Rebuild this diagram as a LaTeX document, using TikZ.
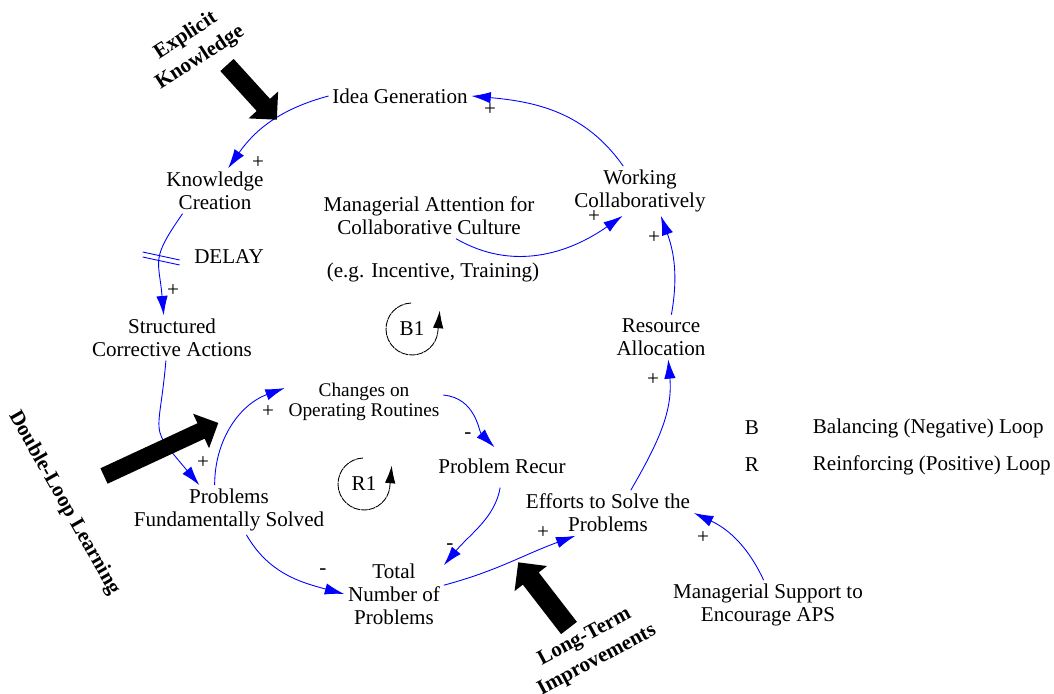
\documentclass[tikz,border=0pt]{standalone}
\usepackage{fontspec}
\setmainfont{Liberation Serif}
\usetikzlibrary{shapes, arrows.meta}
\tikzstyle{var} = [inner sep=2pt, align=center, font=\fontsize{12}{13}\selectfont]
\tikzstyle{sign} = [inner sep=0pt, font=\fontsize{12}{13}\selectfont]
\tikzstyle{tag} = [inner sep=1pt, align=center, font=\bfseries\fontsize{12}{15}\selectfont]
\tikzstyle{link} = [blue, line width=0.5pt, -{Latex[length=11pt,width=6.5pt]}]
\tikzstyle{loopar} = [black, line width=0.5pt, dash pattern=on 4pt off 0.4pt, -{Latex[length=10pt,width=6pt]}]
\newcommand{\fatarrow}[6]{\fill[shift={(#1,#2)}, rotate=#3] (0,-#5) -- (#4-#6,-#5) -- (#4-#6,-#6) -- (#4,0) -- (#4-#6,#6) -- (#4-#6,#5) -- (0,#5) -- cycle;}

\begin{document}
\begin{tikzpicture}[x=0.02cm, y=0.02cm]
\useasboundingbox (0,0) rectangle (1054,693);

% Variables
\node[var] (idea) at (400,597) {Idea Generation};
\node[var] (know) at (215,502) {Knowledge\\Creation};
\node[var] (delay) at (229,436) {DELAY};
\node[var] (struct) at (172,355) {Structured\\Corrective Actions};
\node[var, font=\fontsize{11}{11.5}\selectfont] (change) at (364,291) {Changes on\\Operating Routines};
\node[var] (recur) at (502,227) {Problem Recur};
\node[var] (solved) at (229,183) {Problems\\Fundamentally Solved};
\node[var] (total) at (394,99) {Total\\Number of\\Problems};
\node[var] (effort) at (608,180) {Efforts to Solve the\\Problems};
\node[var] (support) at (768,88) {Managerial Support to\\Encourage APS};
\node[var] (resource) at (661,356) {Resource\\Allocation};
\node[var] (working) at (640,502) {Working\\Collaboratively};
\node[var] (attention) at (429,477) {Managerial Attention for\\Collaborative Culture};
\node[var] (incentive) at (433,421) {(e.g. Incentive, Training)};

% Links
\draw[link] (working.124) to[out=125, in=-5] (idea.east);
\draw[link] (idea.west) to[out=195, in=55] (know.60);
\draw[link] (know.215) to[out=235, in=95, looseness=1.4] coordinate[pos=0.45] (dly) (struct.110);
\draw[link] (struct.255) to[out=265, in=130, looseness=1.6] (solved.140);
\draw[link] (solved.120) to[out=90, in=200] (change.170);
\draw[link, shorten >=6pt] (change.5) to[out=-5, in=135] (recur.north);
\draw[link, shorten <=6pt] (recur.south) to[out=-100, in=50] (total.30);
\draw[link] (solved.-55) to[out=-60, in=165] (total.west);
\draw[link] (total.10) to[out=15, in=200] (effort.-145);
\draw[link] (effort.45) to[out=60, in=-85] (resource.-72);
\draw[link] (resource.65) to[out=80, in=-70] (working.-50);
\draw[link] (attention.-40) to[out=-30, in=215] (working.-125);
\draw[link] (support.100) to[out=115, in=-25] (effort.east);

% Delay mark
\draw[blue, line width=0.5pt] ([shift={(-17,5)}]dly) -- ([shift={(20,-3)}]dly);
\draw[blue, line width=0.5pt] ([shift={(-17,0)}]dly) -- ([shift={(20,-8)}]dly);

% Polarities
\node[sign] (s1) at (490,583) {+};
\node[sign] (s2) at (258,530) {+};
\node[sign] (s3) at (173,402) {+};
\node[sign] (s4) at (203,230) {+};
\node[sign] (s5) at (268,281) {+};
\node[sign] (s6) at (468,257) {-};
\node[sign] (s7) at (450,146) {-};
\node[sign] (s8) at (323,121) {-};
\node[sign] (s9) at (543,160) {+};
\node[sign] (s10) at (653,313) {+};
\node[sign] (s11) at (654,455) {+};
\node[sign] (s12) at (594,476) {+};
\node[sign] (s13) at (703,155) {+};

% Loops
\node[var] (b1) at (412,364) {B1};
\draw[loopar] ([shift={(92:0.52cm)}]b1.center) arc[start angle=92, end angle=352, radius=0.52cm] -- ++(2,22);
\node[var] (r1) at (364,209) {R1};
\draw[loopar] ([shift={(92:0.52cm)}]r1.center) arc[start angle=92, end angle=352, radius=0.52cm] -- ++(2,22);

% Legend
\node[var] (lb) at (752,265) {B};
\node[var, anchor=west] (lbtext) at (809,265) {Balancing (Negative) Loop};
\node[var] (lr) at (752,228) {R};
\node[var, anchor=west] (lrtext) at (809,228) {Reinforcing (Positive) Loop};

% Big arrows
\fatarrow{227}{628}{-47.7}{74}{9}{20}
\fatarrow{104}{217}{24.9}{126}{8.5}{19}
\fatarrow{569}{65}{127.7}{83}{10}{20.5}
\node[tag, rotate=33] (ektag) at (193,646) {Explicit\\Knowledge};
\node[tag, rotate=-60.5] (dltag) at (64,190) {Double-Loop Learning};
\node[tag, rotate=28] (lttag) at (591,44) {Long-Term\\Improvements};

\end{tikzpicture}
\end{document}
